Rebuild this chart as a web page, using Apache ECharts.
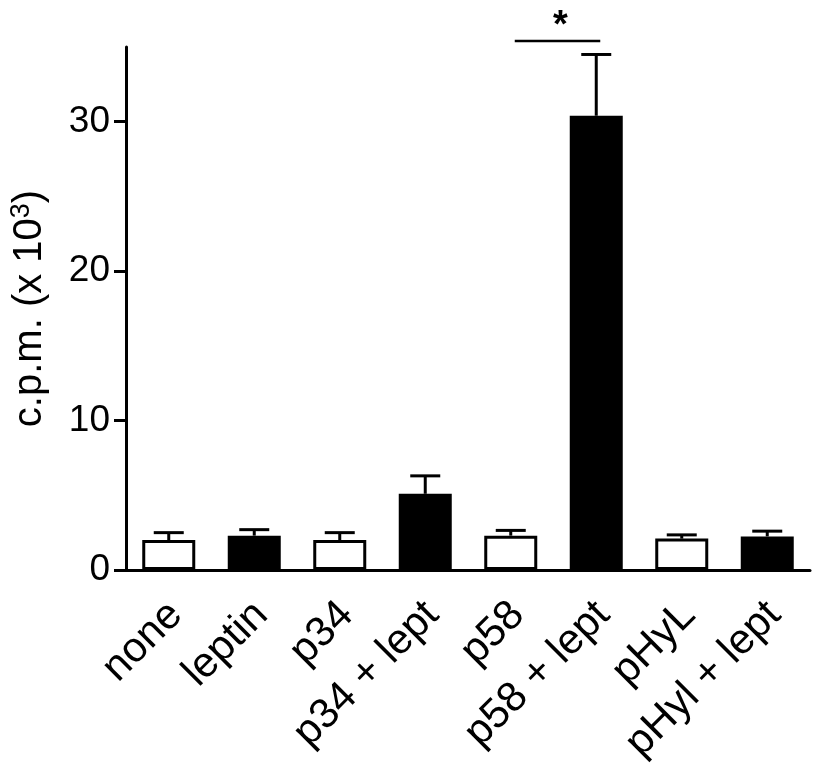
<!DOCTYPE html>
<html>
<head>
<meta charset="utf-8">
<script src="https://cdn.jsdelivr.net/npm/echarts@6/dist/echarts.min.js"></script>
<style>html,body{margin:0;padding:0;background:#fff}#c{width:814px;height:765px}</style>
</head>
<body>
<div id="c"></div>
<script>
const categories = ['none', 'leptin', 'p34', 'p34 + lept', 'p58', 'p58 + lept', 'pHyL', 'pHyl + lept'];
const means = [2.0, 2.3, 2.0, 5.1, 2.3, 30.4, 2.1, 2.25];
const errUpper = [2.5, 2.7, 2.5, 6.3, 2.65, 34.5, 2.35, 2.6];
const filled = [false, true, false, true, false, true, false, true];
const yTicks = [0, 10, 20, 30];
const sigPair = [4, 5];
const sigLevel = 35.4;
const sigLabel = '*';

const FONT = 'Liberation Sans, Arial, Helvetica, sans-serif';
const chart = echarts.init(document.getElementById('c'), null, {renderer: 'canvas'});

const barData = means.map((v, i) => ({
  value: v,
  itemStyle: {color: filled[i] ? '#000' : '#fff', borderColor: '#000', borderWidth: 3}
}));
const errData = means.map((v, i) => [i, v, errUpper[i]]);

chart.setOption({
  animation: false,
  backgroundColor: '#fff',
  grid: {left: 126, right: 4, top: 47, bottom: 195, containLabel: false, outerBoundsMode: 'none'},
  xAxis: {
    type: 'category',
    data: categories,
    axisLine: {lineStyle: {color: '#000', width: 3}},
    axisTick: {show: false},
    axisLabel: {rotate: 45, color: '#000', fontSize: 42, fontFamily: FONT, margin: 16, interval: 0, verticalAlign: 'top', padding: [0, 11, 0, 0]}
  },
  yAxis: {
    type: 'value',
    min: 0, max: 35,
    name: '{a|c.p.m. (x 10}{s|3}{a|)}',
    nameLocation: 'middle',
    nameRotate: 90,
    nameGap: 74,
    nameTextStyle: {
      rich: {
        a: {fontSize: 40, fontFamily: FONT, color: '#000'},
        s: {fontSize: 27, fontFamily: FONT, color: '#000', padding: [0, 0, 17, 0]}
      }
    },
    splitLine: {show: false},
    axisLine: {show: true, lineStyle: {color: '#000', width: 3}},
    axisTick: {show: true, length: 12, lineStyle: {color: '#000', width: 3}, customValues: yTicks},
    axisLabel: {color: '#000', fontSize: 37, fontFamily: FONT, margin: 16, customValues: yTicks}
  },
  series: [
    {
      type: 'bar',
      data: barData,
      barWidth: 53,
      z: 2
    },
    {
      type: 'custom',
      clip: false,
      z: 3,
      data: errData,
      renderItem: function (params, api) {
        const x = api.value(0);
        const top = api.coord([x, api.value(1)]);
        const hi = api.coord([x, api.value(2)]);
        const half = 15;
        return {
          type: 'group',
          children: [
            {type: 'line', shape: {x1: top[0], y1: top[1], x2: hi[0], y2: hi[1]}, style: {stroke: '#000', lineWidth: 3}},
            {type: 'line', shape: {x1: hi[0] - half, y1: hi[1], x2: hi[0] + half, y2: hi[1]}, style: {stroke: '#000', lineWidth: 3}}
          ]
        };
      }
    },
    {
      type: 'custom',
      clip: false,
      z: 3,
      data: [[sigPair[0], sigPair[1], sigLevel]],
      renderItem: function (params, api) {
        const a = api.coord([api.value(0), api.value(2)]);
        const b = api.coord([api.value(1), api.value(2)]);
        return {
          type: 'group',
          children: [
            {type: 'line', shape: {x1: a[0] + 4, y1: a[1], x2: b[0] + 4, y2: b[1]}, style: {stroke: '#000', lineWidth: 2.5}},
            {type: 'text', style: {text: sigLabel, x: (a[0] + b[0]) / 2 + 7, y: a[1] + 4, textAlign: 'center', textVerticalAlign: 'bottom', font: 'bold 38px ' + FONT, fill: '#000'}}
          ]
        };
      }
    }
  ]
});
</script>
</body>
</html>
